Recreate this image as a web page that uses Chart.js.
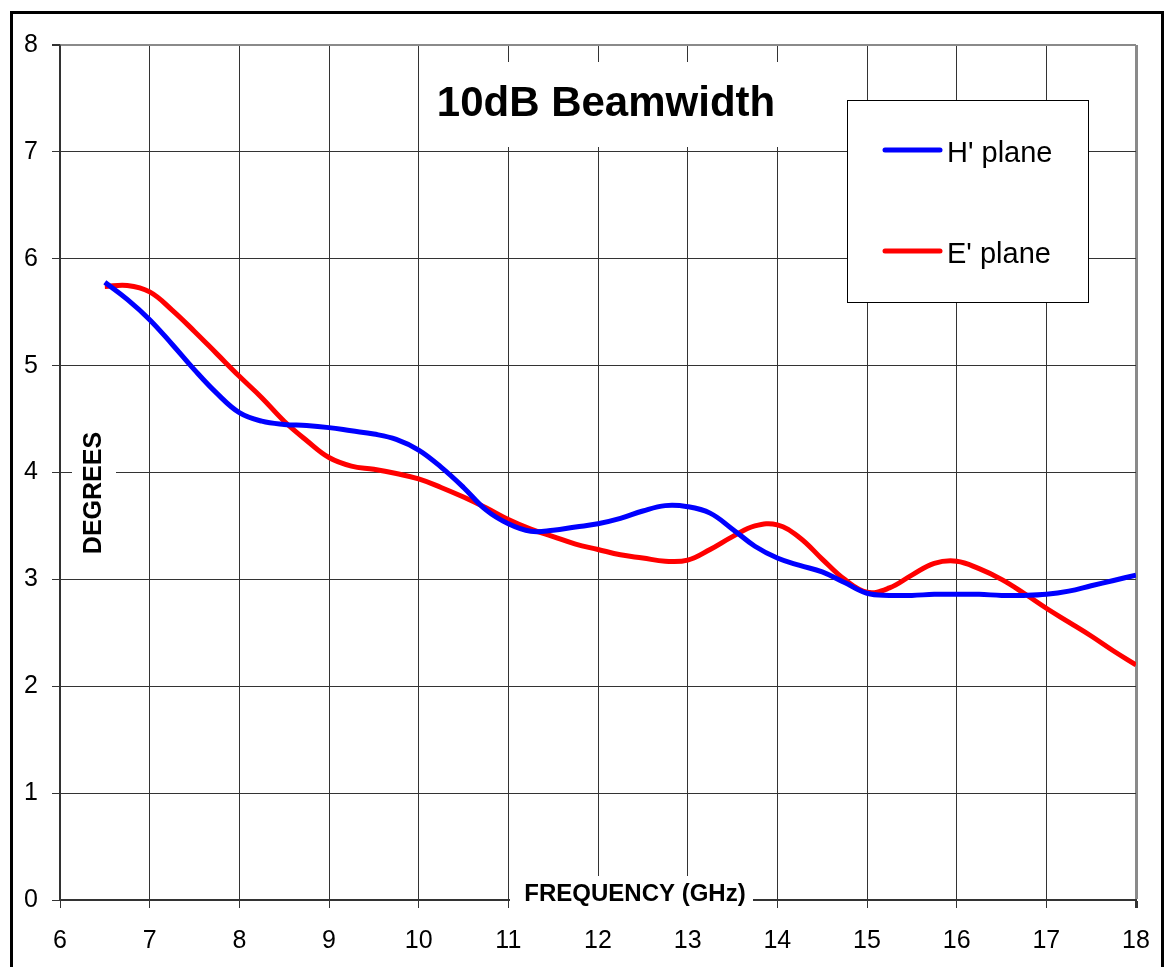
<!DOCTYPE html>
<html lang="en">
<head>
    <meta charset="UTF-8">
    <title>10dB Beamwidth</title>
    <script src="https://cdn.jsdelivr.net/npm/chart.js"></script>
    <style>
        body { margin: 0; background: #fff; }
        canvas { display: block; }
    </style>
</head>
<body>
    <canvas id="beamChart" width="1166" height="967"></canvas>

    <script>
        // --- Data ---
        const freqGHz = [6.5, 6.75, 7, 7.25, 7.5, 7.75, 8, 8.25, 8.5, 8.75, 9, 9.25, 9.5, 9.75,
            10, 10.25, 10.5, 10.75, 11, 11.25, 11.5, 11.75, 12, 12.25, 12.5, 12.75, 13, 13.25,
            13.5, 13.75, 14, 14.25, 14.5, 14.75, 15, 15.25, 15.5, 15.75, 16, 16.25, 16.5, 16.75,
            17, 17.25, 17.5, 17.75, 18];
        const hPlane = [5.78, 5.62, 5.43, 5.20, 4.96, 4.74, 4.56, 4.48, 4.45, 4.44, 4.42, 4.39, 4.36, 4.31,
            4.21, 4.05, 3.86, 3.65, 3.52, 3.45, 3.46, 3.49, 3.52, 3.57, 3.64, 3.69, 3.68, 3.62,
            3.47, 3.31, 3.20, 3.13, 3.07, 2.97, 2.87, 2.85, 2.85, 2.86, 2.86, 2.86, 2.85, 2.85,
            2.86, 2.89, 2.94, 2.99, 3.04];
        const ePlane = [5.74, 5.75, 5.69, 5.52, 5.32, 5.11, 4.90, 4.70, 4.48, 4.30, 4.14, 4.06, 4.03, 3.99,
            3.94, 3.86, 3.77, 3.67, 3.56, 3.47, 3.40, 3.33, 3.28, 3.23, 3.20, 3.17, 3.18, 3.28,
            3.40, 3.50, 3.51, 3.39, 3.19, 3.00, 2.88, 2.92, 3.04, 3.15, 3.17, 3.10, 3.00, 2.87,
            2.73, 2.60, 2.47, 2.33, 2.20];
        const seriesNames = ["H' plane", "E' plane"];
        const chartTitle = '10dB Beamwidth';
        const xTitle = 'FREQUENCY (GHz)';
        const yTitle = 'DEGREES';

        const FONT = "'Liberation Sans', Arial, sans-serif";

        function toPoints(ys) {
            return freqGHz.map((f, i) => ({ x: f, y: ys[i] }));
        }

        // Frame, title, axis titles and legend drawn like the original sheet
        const decorations = {
            id: 'decorations',
            afterDraw(chart) {
                const c = chart.ctx;
                c.save();

                // outer frame
                c.strokeStyle = '#000';
                c.lineWidth = 3;
                c.strokeRect(11.5, 12.5, 1151, 1000);

                // title on white box
                c.fillStyle = '#fff';
                c.fillRect(421, 62, 375, 85);
                c.fillStyle = '#000';
                c.font = 'bold 42px ' + FONT;
                c.textAlign = 'center';
                c.textBaseline = 'alphabetic';
                c.fillText(chartTitle, 606, 116);

                // y title (rotated)
                c.fillStyle = '#fff';
                c.fillRect(72, 428, 44, 130);
                c.save();
                c.translate(101, 493);
                c.rotate(-Math.PI / 2);
                c.fillStyle = '#000';
                c.font = 'bold 25px ' + FONT;
                c.textAlign = 'center';
                c.fillText(yTitle, 0, 0);
                c.restore();

                // x title
                c.fillStyle = '#fff';
                c.fillRect(510, 876, 243, 34);
                c.fillStyle = '#000';
                c.font = 'bold 24px ' + FONT;
                c.textAlign = 'center';
                c.fillText(xTitle, 635, 901);

                // legend box
                c.fillStyle = '#fff';
                c.fillRect(847, 100, 241, 202);
                c.strokeStyle = '#000';
                c.lineWidth = 1;
                c.strokeRect(847.5, 100.5, 241, 202);
                const rows = [150, 251];
                chart.data.datasets.forEach((ds, i) => {
                    c.strokeStyle = ds.borderColor;
                    c.lineWidth = 5;
                    c.lineCap = 'round';
                    c.beginPath();
                    c.moveTo(885, rows[i]);
                    c.lineTo(940, rows[i]);
                    c.stroke();
                    c.fillStyle = '#000';
                    c.font = '29px ' + FONT;
                    c.textAlign = 'left';
                    c.fillText(ds.label, 947, rows[i] + 12);
                });

                c.restore();
            }
        };

        const ctx = document.getElementById('beamChart').getContext('2d');
        new Chart(ctx, {
            type: 'line',
            data: {
                datasets: [
                    {
                        label: seriesNames[0],
                        data: toPoints(hPlane),
                        borderColor: '#0000ff',
                        borderWidth: 5,
                        pointRadius: 0,
                        tension: 0.4,
                        fill: false
                    },
                    {
                        label: seriesNames[1],
                        data: toPoints(ePlane),
                        borderColor: '#ff0000',
                        borderWidth: 5,
                        pointRadius: 0,
                        tension: 0.4,
                        fill: false
                    }
                ]
            },
            options: {
                responsive: false,
                animation: false,
                layout: { padding: { left: 0, top: 45, right: 30, bottom: 0 } },
                plugins: {
                    legend: { display: false },
                    title: { display: false },
                    tooltip: { enabled: false }
                },
                scales: {
                    x: {
                        type: 'linear',
                        min: 6,
                        max: 18,
                        afterFit(scale) {
                            scale.height = 67;
                            scale.paddingLeft = 0;
                            scale.paddingRight = 0;
                        },
                        ticks: {
                            stepSize: 1,
                            color: '#000',
                            font: { family: FONT, size: 25 },
                            padding: 18
                        },
                        grid: {
                            color: c => c.tick && c.tick.value === 18 ? '#8a8a8a' : '#333',
                            lineWidth: c => c.tick && c.tick.value === 18 ? 3 : 1,
                            tickColor: '#333',
                            tickLength: 8
                        },
                        border: { color: '#333', width: 2 }
                    },
                    y: {
                        min: 0,
                        max: 8,
                        afterFit(scale) { scale.width = 60; },
                        ticks: {
                            stepSize: 1,
                            color: '#000',
                            font: { family: FONT, size: 25 },
                            padding: 14
                        },
                        grid: {
                            color: c => c.tick && c.tick.value === 8 ? '#8a8a8a' : '#333',
                            lineWidth: c => c.tick && c.tick.value === 8 ? 2 : 1,
                            tickColor: '#333',
                            tickLength: 8
                        },
                        border: { color: '#333', width: 1.5 }
                    }
                }
            },
            plugins: [decorations]
        });
    </script>
</body>
</html>
